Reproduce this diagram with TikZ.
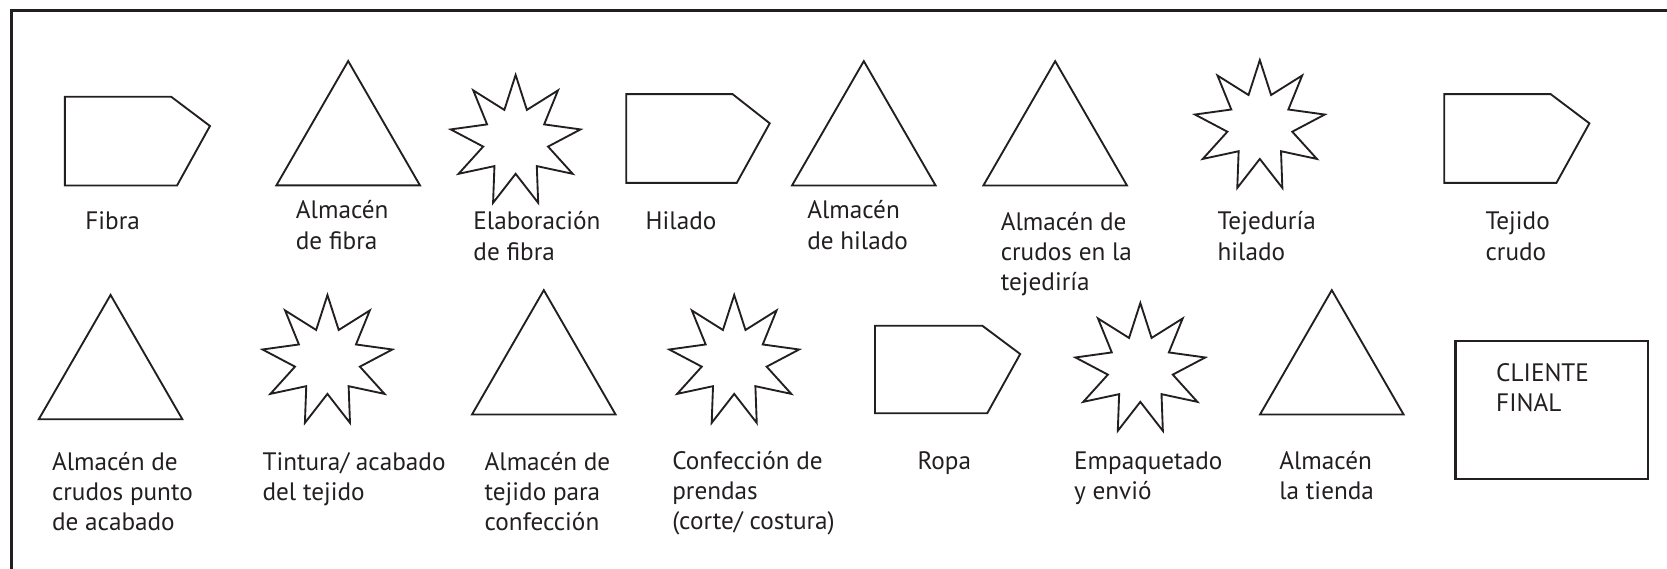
\documentclass[tikz,border=0pt]{standalone}
\usepackage{fontspec}
\setmainfont{PT Sans}
\usetikzlibrary{shapes.geometric}
\definecolor{inkdark}{RGB}{35,31,32}

\begin{document}
\begin{tikzpicture}[x=0.02cm, y=0.02cm,
    etiqueta/.style={anchor=base west, inner sep=0pt, align=left, text=inkdark, font=\fontsize{13.5}{16.2}\selectfont},
    almacen/.style={draw=inkdark, line width=1pt, regular polygon, regular polygon sides=3, minimum size=3.12cm, inner sep=0pt},
    proceso/.style={draw=inkdark, line width=1pt, star, star points=9, star point ratio=2, minimum size=2.48cm, inner sep=0pt},
    producto/.style={draw=inkdark, line width=1pt, line join=miter}]
    \useasboundingbox (0,0) rectangle (1568,535);

    % Marco
    \draw[line width=1.6pt, draw=inkdark] (10.8,-10) |- (1590,524.7);

    % Fila superior (base = ultima linea de cada etiqueta)
    \draw[producto] (61,444) -- ++(100,0) -- ++(36.5,-27.5) -- ++(-31,-56) -- ++(-105.5,0) -- cycle;
    \node[etiqueta] (l-fibra) at (80,318.7) {Fibra};
    \node[almacen] (almfibra) at (327.5,399.6) {};
    \node[etiqueta] (l-almfibra) at (278,300.7) {Almacén\\de fibra};
    \node[proceso] (elabfibra) at (485,402.5) {};
    \node[etiqueta] (l-elabfibra) at (445,290.2) {Elaboración\\de fibra};
    \draw[producto] (589,446.5) -- ++(100,0) -- ++(35,-27.5) -- ++(-31,-56) -- ++(-104,0) -- cycle;
    \node[etiqueta] (l-hilado) at (607,318.7) {Hilado};
    \node[almacen] (almhilado) at (812.5,399.5) {};
    \node[etiqueta] (l-almhilado) at (759,300.7) {Almacén\\de hilado};
    \node[almacen] (almcrudos) at (992.5,399.5) {};
    \node[etiqueta] (l-almcrudos) at (941,261.7) {Almacén de\\crudos en la\\tejediría};
    \node[proceso] (tejeduria) at (1185,416.5) {};
    \node[etiqueta] (l-tejeduria) at (1145,290.2) {Tejeduría\\hilado};
    \draw[producto] (1358.5,446.5) -- ++(100,0) -- ++(36.5,-27.5) -- ++(-31,-56) -- ++(-105.5,0) -- cycle;
    \node[etiqueta] (l-tejido) at (1397,290.2) {Tejido\\crudo};

    % Fila inferior
    \node[almacen] (almacabado) at (104,179.6) {};
    \node[etiqueta] (l-almacabado) at (48.6,35.7) {Almacén de\\crudos punto\\de acabado};
    \node[proceso] (tintura) at (308,195.5) {};
    \node[etiqueta] (l-tintura) at (246.6,64.2) {Tintura/ acabado\\del tejido};
    \node[almacen] (almtejido) at (511.5,184.1) {};
    \node[etiqueta] (l-almtejido) at (455.5,35.7) {Almacén de\\tejido para\\confección};
    \node[proceso] (confeccion) at (690.6,195.5) {};
    \node[etiqueta] (l-confeccion) at (632,36.7) {Confección de\\prendas\\(corte/ costura)};
    \draw[producto] (823,228.6) -- ++(101,0) -- ++(35.6,-26.6) -- ++(-31,-55.7) -- ++(-105.6,0) -- cycle;
    \node[etiqueta] (l-ropa) at (862.7,93.7) {Ropa};
    \node[proceso] (empaquetado) at (1072.6,188) {};
    \node[etiqueta] (l-empaquetado) at (1010,65.2) {Empaquetado\\y envió};
    \node[almacen] (almtienda) at (1252.7,184.1) {};
    \node[etiqueta] (l-almtienda) at (1203,65.2) {Almacén\\la tienda};
    \node[draw=inkdark, line width=1.2pt, minimum width=3.62cm, minimum height=2.6cm, inner sep=0pt] (cliente) at (1459.5,149.45) {};
    \node[etiqueta] (l-cliente) at (1407,147.6) {CLIENTE\\FINAL};
\end{tikzpicture}
\end{document}
